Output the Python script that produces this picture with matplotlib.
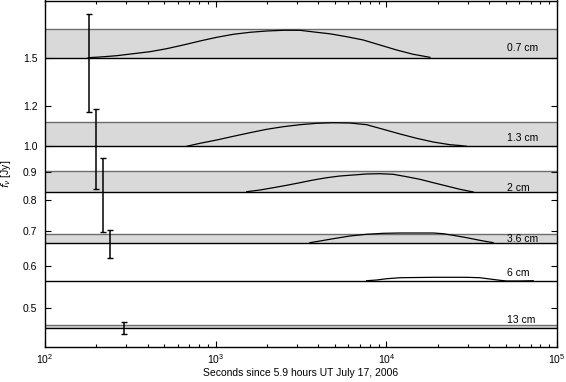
"""
Radio light curves at six wavelengths, stacked as shaded bands.
"""
import matplotlib
matplotlib.use('Agg')
import numpy as np
import matplotlib.pyplot as plt
from matplotlib.ticker import FixedLocator, FormatStrFormatter, NullLocator

plt.rcParams['font.family'] = ['Liberation Sans', 'DejaVu Sans']
plt.rcParams['mathtext.fontset'] = 'dejavusans'

# ---- data (flux in Jy, time in s) ----
band_names = ['0.7 cm', '1.3 cm', '2 cm', '3.6 cm', '6 cm', '13 cm']
band_lo = [1.5, 1.0, 0.8275, 0.666, 0.5647, 0.4597]
band_hi = [1.727, 1.12, 0.905, 0.691, 0.5647, 0.4661]
label_y = [1.578, 1.0415, 0.844, 0.677, 0.583, 0.476]

t_07 = [179, 210, 263, 329, 412, 516, 646, 809, 1014, 1269, 1589, 1990, 2489,
        3118, 3905, 4673, 5855, 7325, 9173, 11492, 14377, 18006]
f_07 = [1.5, 1.5056, 1.516, 1.532, 1.548, 1.572, 1.6016, 1.6336, 1.6632,
        1.6872, 1.7032, 1.7136, 1.7192, 1.7192, 1.7032, 1.6912, 1.668,
        1.6416, 1.6016, 1.5616, 1.5272, 1.5032]

t_13 = [676, 809, 1014, 1269, 1589, 1990, 2489, 3118, 3905, 4887, 6120, 7665,
        9592, 12030, 15050, 18830, 23590, 26990, 29500]
f_13 = [1.0, 1.015, 1.0315, 1.05, 1.068, 1.085, 1.098, 1.108, 1.115, 1.118,
        1.1165, 1.108, 1.085, 1.0615, 1.04, 1.0215, 1.008, 1.004, 1.0]

t_20 = [1520, 1818, 2175, 2606, 3118, 3731, 4470, 5348, 6399, 7665, 9173,
        10975, 13150, 15730, 18830, 22560, 26990, 32300]
f_20 = [0.8296, 0.8357, 0.8439, 0.8525, 0.8618, 0.8714, 0.8796, 0.8857,
        0.8893, 0.8929, 0.8939, 0.8918, 0.8832, 0.8739, 0.8618, 0.85,
        0.8382, 0.8286]

t_36 = [3565, 4083, 4887, 6120, 7665, 9592, 12030, 15050, 18830, 21540,
        24660, 29540, 35300, 42300]
f_36 = [0.6666, 0.6714, 0.678, 0.6857, 0.6906, 0.6934, 0.6943, 0.6943,
        0.6943, 0.6923, 0.6877, 0.6809, 0.6734, 0.6666]

t_60 = [7665, 8775, 10040, 12030, 18830, 29540, 35300, 40450, 46400, 50670,
        60650, 72550]
f_60 = [0.5647, 0.5664, 0.5695, 0.5719, 0.5729, 0.5729, 0.5719, 0.5688,
        0.5657, 0.564, 0.564, 0.5647]

curve_t = [t_07, t_13, t_20, t_36, t_60]
curve_f = [f_07, f_13, f_20, f_36, f_60]

err_t = [181, 199, 218, 240, 290]
err_f = [1.5, 1.0, 0.83, 0.666, 0.4616]
err_lo = [1.17, 0.84, 0.696, 0.624, 0.4491]
err_hi = [1.85, 1.185, 0.955, 0.703, 0.4714]

# irregular flux axis: piecewise mapping between labelled ticks
knot_flux = np.array([0.1, 0.4, 0.5, 0.6, 0.7, 0.8, 0.9, 1.0, 1.2, 1.5, 2.0, 5.0])
knot_pos = -np.array([512.0, 358.8, 307.7, 266.0, 231.0, 200.0, 172.0,
                      146.3, 106.3, 57.7, -4.8, -754.8])


def _fwd(f):
    return np.interp(f, knot_flux, knot_pos)


def _inv(p):
    return np.interp(p, knot_pos, knot_flux)


fig = plt.figure(figsize=(5.66, 3.82), dpi=100, facecolor='white')
ax = fig.add_axes([45 / 566, 1 - 347 / 382, 512 / 566, 346.5 / 382])
ax.set_xscale('log')
ax.set_yscale('function', functions=(_fwd, _inv))
ax.set_xlim(1e2, 1e5)
ax.set_ylim(0.4231, 1.9576)

for lo, hi in zip(band_lo, band_hi):
    if hi > lo:
        ax.axhspan(lo, hi, facecolor='#d9d9d9', edgecolor='none', zorder=1)
        ax.axhline(hi, color='#6e6e6e', lw=1.0, zorder=2)
    ax.axhline(lo, color='black', lw=1.0, zorder=2)

for t, f in zip(curve_t, curve_f):
    ax.plot(t, f, color='black', lw=0.9, zorder=3)

for name, y in zip(band_names, label_y):
    ax.text(5.1e4, y, name, ha='left', va='center', fontsize=7.5, zorder=4)

yerr = [np.array(err_f) - np.array(err_lo), np.array(err_hi) - np.array(err_f)]
ax.errorbar(err_t, err_f, yerr=yerr, fmt='none', ecolor='black',
            elinewidth=1.1, capsize=2, capthick=1.0, zorder=5)

ax.yaxis.set_major_locator(FixedLocator([0.5, 0.6, 0.7, 0.8, 0.9, 1.0, 1.2, 1.5]))
ax.yaxis.set_major_formatter(FormatStrFormatter('%.1f'))
ax.yaxis.set_minor_locator(NullLocator())

ax.tick_params(which='both', direction='in', top=True, right=True,
               labelsize=7.5, width=0.8)
ax.tick_params(which='major', length=4)
ax.tick_params(which='minor', length=2)
ax.tick_params(axis='y', pad=5.5)
ax.tick_params(axis='x', pad=3.5)

for sp in ax.spines.values():
    sp.set_linewidth(1.0)

ax.set_xlabel('Seconds since 5.9 hours UT July 17, 2006', fontsize=7.5, labelpad=2)
ax.set_ylabel(r'$f_\nu$ [Jy]', fontsize=7.5, labelpad=7)

fig.savefig('out.png', dpi=100)
